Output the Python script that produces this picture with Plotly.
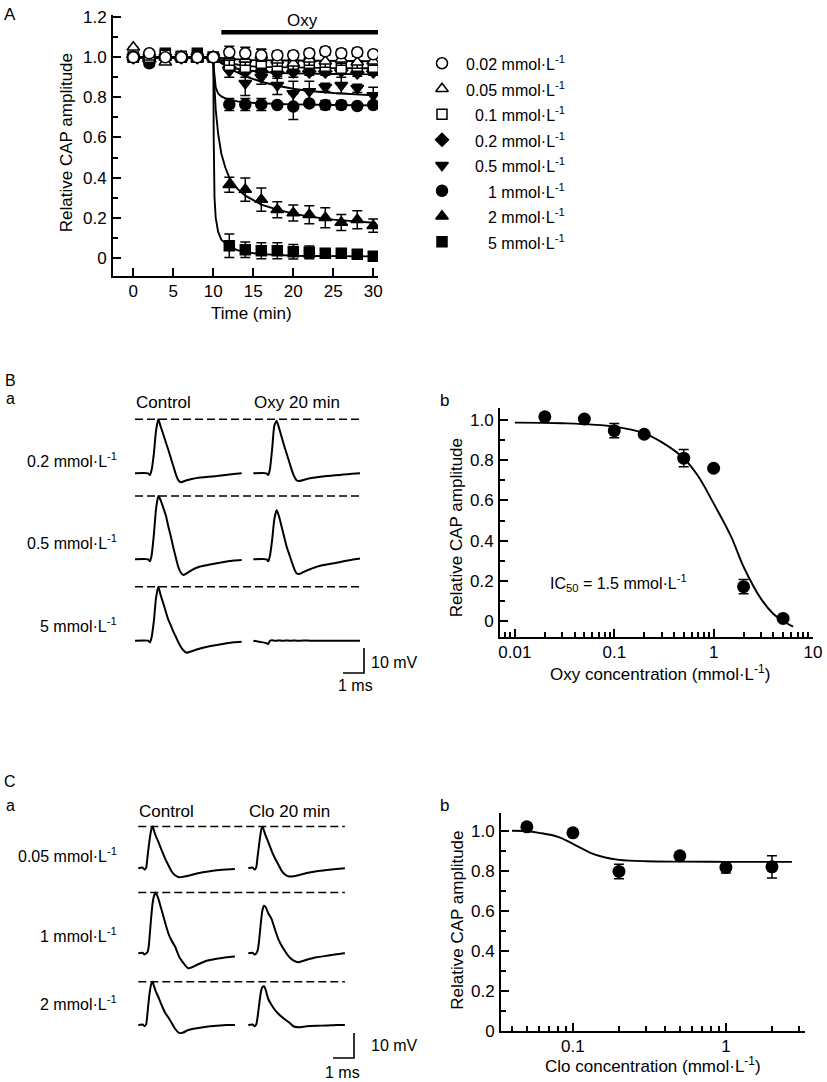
import plotly.graph_objects as go

W, H = 827, 1082
FONT = "Liberation Sans, Arial, sans-serif"
UNIT = "mmol·L<sup>-1</sup>"

# ---------Panel A: time course (relative CAP amplitude)---------
A_TIME = [0, 2, 4, 6, 8, 10, 12, 14, 16, 18, 20, 22, 24, 26, 28, 30]
A_CONC = ["0.02", "0.05", "0.1", "0.2", "0.5", "1", "2", "5"]

A_MEAN_002 = [1.0, 1.02, 1.0, 1.0, 1.0, 1.0, 1.025, 1.02, 1.01, 1.01, 1.01, 1.02, 1.03, 1.02, 1.025, 1.015]
A_SEM_002 = [0, 0, 0, 0, 0, 0, 0.03, 0.03, 0.03, 0.02, 0.02, 0.02, 0.02, 0.02, 0.02, 0.015]
A_MEAN_005 = [1.05, 1.0, 0.975, 1.0, 0.99, 1.0, 1.0, 0.99, 1.01, 0.985, 0.97, 0.99, 0.98, 0.99, 0.975, 0.98]
A_SEM_005 = [0, 0, 0, 0, 0, 0, 0.04, 0.03, 0.03, 0.03, 0.03, 0.03, 0.03, 0.03, 0.03, 0.02]
A_MEAN_01 = [1.0, 1.0, 1.01, 1.005, 1.0, 1.0, 0.96, 0.95, 0.97, 0.955, 0.96, 0.97, 0.955, 0.945, 0.955, 0.95]
A_SEM_01 = [0, 0, 0, 0, 0, 0, 0.02, 0.02, 0.02, 0.02, 0.02, 0.02, 0.02, 0.02, 0.02, 0.02]
A_MEAN_02 = [1.0, 0.98, 1.0, 1.0, 1.0, 1.0, 0.95, 0.93, 0.93, 0.925, 0.93, 0.93, 0.93, 0.935, 0.925, 0.93]
A_SEM_02 = [0, 0, 0, 0, 0, 0, 0.02, 0.03, 0.03, 0.03, 0.03, 0.02, 0.02, 0.02, 0.02, 0.02]
A_MEAN_05 = [1.0, 1.0, 1.0, 1.0, 1.0, 1.0, 0.93, 0.87, 0.9, 0.86, 0.82, 0.83, 0.85, 0.86, 0.845, 0.81]
A_SEM_05 = [0, 0, 0, 0, 0, 0, 0.03, 0.06, 0.035, 0.045, 0.06, 0.05, 0.02, 0.04, 0.02, 0.04]
A_MEAN_1 = [1.0, 0.97, 1.0, 1.0, 1.01, 1.0, 0.765, 0.765, 0.765, 0.762, 0.754, 0.77, 0.762, 0.762, 0.757, 0.762]
A_SEM_1 = [0, 0, 0, 0, 0, 0, 0.03, 0.03, 0.03, 0.01, 0.064, 0.01, 0.023, 0.02, 0.01, 0.01]
A_MEAN_2 = [1.0, 1.0, 1.0, 1.0, 1.0, 1.0, 0.364, 0.34, 0.29, 0.24, 0.223, 0.215, 0.2, 0.176, 0.19, 0.16]
A_SEM_2 = [0, 0, 0, 0, 0, 0, 0.037, 0.058, 0.058, 0.04, 0.04, 0.045, 0.05, 0.04, 0.045, 0.033]
A_MEAN_5 = [1.0, 1.0, 1.02, 1.0, 1.02, 1.0, 0.06, 0.04, 0.035, 0.035, 0.03, 0.027, 0.022, 0.022, 0.017, 0.007]
A_SEM_5 = [0, 0, 0, 0, 0, 0, 0.059, 0.039, 0.04, 0.04, 0.036, 0.032, 0.01, 0.01, 0.01, 0.005]

# fitted curves
A_FIT_TIME = [0, 10, 10.05, 10.15, 10.3, 10.6, 11, 11.5, 12, 13, 14, 16, 18, 20, 22, 25, 28, 30]
A_FIT_005 = [1.0, 1.0, 1.0, 1.0, 1.0, 0.999, 0.997, 0.994, 0.992, 0.989, 0.987, 0.985, 0.984, 0.983, 0.982, 0.981, 0.98, 0.98]
A_FIT_01 = [1.0, 1.0, 1.0, 0.999, 0.997, 0.993, 0.985, 0.977, 0.97, 0.962, 0.957, 0.952, 0.95, 0.948, 0.947, 0.946, 0.945, 0.945]
A_FIT_02 = [1.0, 1.0, 0.999, 0.997, 0.993, 0.985, 0.975, 0.965, 0.955, 0.943, 0.935, 0.927, 0.922, 0.92, 0.918, 0.917, 0.916, 0.915]
A_FIT_05 = [1.0, 1.0, 0.998, 0.995, 0.99, 0.98, 0.97, 0.96, 0.945, 0.925, 0.905, 0.878, 0.858, 0.843, 0.832, 0.822, 0.814, 0.81]
A_FIT_1 = [1.0, 1.0, 0.95, 0.9, 0.85, 0.82, 0.805, 0.795, 0.79, 0.78, 0.775, 0.77, 0.767, 0.765, 0.763, 0.762, 0.761, 0.76]
A_FIT_2 = [1.0, 1.0, 0.92, 0.83, 0.74, 0.62, 0.52, 0.45, 0.40, 0.345, 0.31, 0.265, 0.24, 0.22, 0.205, 0.19, 0.18, 0.175]
A_FIT_5 = [1.0, 1.0, 0.6, 0.3, 0.2, 0.13, 0.09, 0.07, 0.055, 0.038, 0.028, 0.018, 0.013, 0.01, 0.009, 0.008, 0.007, 0.007]

OXY_BAR = [11, 30.6]  # [min]

# ---------Panel Ba: CAP recordings, Oxy---------
BA_T = [0, 0.63, 0.71, 0.79, 0.9, 1.0, 1.11, 1.23, 1.35, 1.47, 1.59, 1.71, 1.83, 1.95, 2.06, 2.18, 2.3, 2.46, 2.7, 3.1, 3.5, 3.9, 4.3, 4.7, 5.08]  # [ms]
BA_CTRL_02 = [0, 0, -0.7, 1.3, 8, 17, 21.6, 18.5, 15.5, 12.3, 9.3, 6, 2.7, -0.5, -2.7, -3.6, -3.3, -2.8, -2.3, -1.7, -1.4, -1.1, -0.7, -0.3, 0]  # [mV]
BA_OXY_02 = [0, 0, -0.7, 1.5, 10, 19, 21, 18, 14.5, 11, 7.8, 4.6, 1.4, -1.3, -2.8, -3.1, -2.9, -2.5, -2.0, -1.5, -1.1, -0.8, -0.5, -0.2, 0]
BA_CTRL_05 = [0, 0, -0.8, 1.5, 10, 20, 25.3, 23.5, 20.5, 17.5, 13, 9, 4.5, 0.5, -3, -5.3, -6.3, -5.6, -4.3, -2.9, -2.2, -1.6, -1.0, -0.5, -0.3]
BA_OXY_05 = [0, 0, -0.8, 1.3, 8, 16, 19.7, 17, 13, 9, 5, 2, -1, -3.8, -5.6, -5.9, -5.5, -4.8, -4.0, -2.8, -2.1, -1.5, -0.8, -0.2, 0.3]
BA_CTRL_5 = [0, 0, -0.7, 1.3, 8, 17, 21.6, 18, 14.9, 11.5, 8.3, 6, 3.5, 1.5, -0.5, -2.4, -3.8, -4.8, -4.2, -3.1, -2.3, -1.7, -1.1, -0.6, -0.4]
BA_OXY_5 = [0, -1.0, -1.3, 0, 0.2, 0, 0, 0.1, 0, 0, 0.1, 0, 0, 0.1, 0, 0, 0, 0.1, 0, 0, 0, 0, 0, 0, 0]
BA_ROWS = ["0.2", "0.5", "5"]

# ---------Panel Bb: Oxy concentration-response---------
BB_CONC = [0.02, 0.05, 0.1, 0.2, 0.5, 1, 2, 5]
BB_MEAN = [1.016, 1.005, 0.947, 0.929, 0.81, 0.76, 0.171, 0.013]
BB_SEM = [0, 0, 0.035, 0, 0.043, 0, 0.035, 0]
BB_FIT_CONC = [0.01, 0.03, 0.1, 0.2, 0.3, 0.5, 0.7, 1.0, 1.5, 2.0, 3.0, 4.0, 5.0, 6.3]
BB_FIT = [0.987, 0.984, 0.967, 0.934, 0.89, 0.81, 0.72, 0.585, 0.42, 0.27, 0.11, 0.035, 0.0, -0.028]

# ---------Panel Ca: CAP recordings, Clo---------
CA_T = [0, 0.2, 0.3, 0.38, 0.44, 0.5, 0.56, 0.62, 0.68, 0.75, 0.83, 0.95, 1.11, 1.27, 1.43, 1.59, 1.75, 1.95, 2.14, 2.38, 2.78, 3.25, 3.73, 4.2, 4.6]  # [ms]
CA_CTRL_005 = [0, 0.3, -0.5, 0.5, 4.7, 9, 12.7, 15.5, 16.7, 15, 13, 10.7, 7.3, 4, 1.3, -1.3, -2.8, -3.6, -3.4, -3.0, -2.1, -1.4, -0.8, -0.5, -0.3]
CA_CLO_005 = [0, 0.3, -0.5, 0.5, 4.5, 8.5, 12.5, 15.5, 16.6, 15, 13, 10.5, 7, 4, 1.5, -1, -2.5, -3.3, -3.2, -2.8, -1.9, -1.2, -0.7, -0.3, 0]
CA_CTRL_1 = [0, 0.2, -0.5, 0, 0.5, 3, 9, 15, 20, 23, 24.3, 22, 17.3, 12.5, 8, 5, 2.7, -1.5, -3.8, -6, -4.7, -3.0, -2.2, -1.6, -1.3]
CA_CLO_1 = [0, 0.2, -0.5, 0, 1, 4, 9, 14, 17.5, 19, 18.5, 16, 13.7, 9.5, 5.7, 3, 0.8, -1.5, -2.8, -3.6, -2.6, -1.6, -1.0, -0.4, 0]
CA_CTRL_2 = [0, 0.2, -0.5, 0.5, 5, 10, 14, 16.5, 17.3, 15.5, 13.5, 11.3, 8, 5, 3, 0.8, -1.5, -3.2, -3, -2, -1.3, -0.7, -0.3, 0, 0]
CA_CLO_2 = [0, 0.2, -0.5, 0.3, 3, 7, 11, 14, 15.3, 15.5, 14, 10.4, 8, 6, 4.5, 3.3, 2.2, 1.0, -0.5, -0.9, -0.5, -0.3, -0.2, 0, 0]
CA_ROWS = ["0.05", "1", "2"]

# ---------Panel Cb: Clo concentration-response---------
CB_CONC = [0.05, 0.1, 0.2, 0.5, 1, 2]
CB_MEAN = [1.02, 0.99, 0.797, 0.875, 0.817, 0.82]
CB_SEM = [0, 0, 0.036, 0, 0.028, 0.056]
CB_FIT_CONC = [0.04, 0.05, 0.06, 0.08, 0.1, 0.13, 0.16, 0.2, 0.3, 0.5, 1.0, 2.0, 2.7]
CB_FIT = [1.0, 0.998, 0.99, 0.97, 0.935, 0.89, 0.868, 0.855, 0.848, 0.846, 0.845, 0.845, 0.845]

SCALE_MS = 1   # [ms]
SCALE_MV = 10  # [mV]

# ---------Layout helpers (pixel positions)---------
PX_PER_MS = 21.0
PX_PER_MV = 2.5


def xdom(x0, x1):
    return [x0 / W, x1 / W]


def ydom(y0, y1):
    return [1 - y1 / H, 1 - y0 / H]


def data_axis(standoff, **kw):
    base = dict(showline=True, linecolor="black", linewidth=2, ticks="inside", ticklen=8,
                tickwidth=2, tickcolor="black", showgrid=False, zeroline=False, automargin=False,
                tickfont=dict(family=FONT, size=17, color="black"), ticklabelstandoff=standoff)
    base.update(kw)
    return base


def minor(vals):
    return dict(ticks="inside", ticklen=5, tickwidth=2, tickcolor="black", tickvals=vals, showgrid=False)


def trace_axes(x0, x1, y0, y1, ox, oy):
    xa = dict(domain=xdom(x0, x1), range=[(x0 - ox) / PX_PER_MS, (x1 - ox) / PX_PER_MS],
              visible=False, automargin=False)
    ya = dict(domain=ydom(y0, y1), range=[(oy - y1) / PX_PER_MV, (oy - y0) / PX_PER_MV],
              visible=False, automargin=False)
    return xa, ya


fig = go.Figure()


def text(s, x, y, size=17, xanchor="center", angle=0):
    fig.add_annotation(text=s, x=x / W, y=1 - y / H, xref="paper", yref="paper", showarrow=False,
                       xanchor=xanchor, yanchor="middle", textangle=angle, borderpad=0,
                       font=dict(family=FONT, size=size, color="black"))


# ---------Panel A---------
a_means = [A_MEAN_002, A_MEAN_005, A_MEAN_01, A_MEAN_02, A_MEAN_05, A_MEAN_1, A_MEAN_2, A_MEAN_5]
a_sems = [A_SEM_002, A_SEM_005, A_SEM_01, A_SEM_02, A_SEM_05, A_SEM_1, A_SEM_2, A_SEM_5]
a_fits = [A_FIT_005, A_FIT_01, A_FIT_02, A_FIT_05, A_FIT_1, A_FIT_2, A_FIT_5]
a_style = [("circle", "white", 11), ("triangle-up", "white", 11), ("square", "white", 10),
           ("diamond", "black", 10), ("triangle-down", "black", 11), ("circle", "black", 11),
           ("triangle-up", "black", 11), ("square", "black", 10)]

for fit in a_fits:
    fig.add_trace(go.Scatter(x=A_FIT_TIME, y=fit, mode="lines", line=dict(color="black", width=1.9),
                             xaxis="x", yaxis="y", showlegend=False, hoverinfo="skip"))

for i in reversed(range(len(A_CONC))):
    sym, col, size = a_style[i]
    fig.add_trace(go.Scatter(x=A_TIME, y=a_means[i], mode="markers", name=A_CONC[i] + " mmol/L",
                             marker=dict(symbol=sym, color=col, size=size, line=dict(color="black", width=1.5)),
                             error_y=dict(type="data", array=a_sems[i], color="black", thickness=1.5, width=5),
                             xaxis="x", yaxis="y", showlegend=False))

fig.add_trace(go.Scatter(x=OXY_BAR, y=[1.125, 1.125], mode="lines", line=dict(color="black", width=4.5),
                         cliponaxis=False, xaxis="x", yaxis="y", showlegend=False, hoverinfo="skip"))

# legend (drawn by hand so the labels can be right aligned)
for i, conc in enumerate(A_CONC):
    sym, col, size = a_style[i]
    fig.add_trace(go.Scatter(x=[0], y=[i], mode="markers",
                             marker=dict(symbol=sym, color=col, size=size, line=dict(color="black", width=1.5)),
                             xaxis="x2", yaxis="y2", showlegend=False, hoverinfo="skip"))
    text(conc + " " + UNIT, 566, 63.3 + 25.5 * i, size=16, xanchor="right")


# ---------Panels Ba / Ca: recordings---------
def add_recordings(t, rows, col_px, row_px, xref, yref, corner_px):
    ox, oy = col_px[0], row_px[0]
    for (ctrl, drug), rpx in zip(rows, row_px):
        dy = (oy - rpx) / PX_PER_MV
        for wave, cpx in zip((ctrl, drug), col_px):
            dx = (cpx - ox) / PX_PER_MS
            fig.add_trace(go.Scatter(x=[v + dx for v in t], y=[v + dy for v in wave], mode="lines",
                                     line=dict(color="black", width=2, shape="spline", smoothing=0.5),
                                     xaxis=xref, yaxis=yref, showlegend=False, hoverinfo="skip"))
        end = (col_px[1] - ox) / PX_PER_MS + t[-1]
        peak = max(ctrl) + dy
        fig.add_trace(go.Scatter(x=[0, end], y=[peak, peak], mode="lines",
                                 line=dict(color="black", width=1.6, dash="8px,4px"),
                                 xaxis=xref, yaxis=yref, showlegend=False, hoverinfo="skip"))
    cx = (corner_px[0] - ox) / PX_PER_MS
    cy = (oy - corner_px[1]) / PX_PER_MV
    fig.add_trace(go.Scatter(x=[cx - SCALE_MS, cx, cx], y=[cy, cy, cy + SCALE_MV], mode="lines",
                             line=dict(color="black", width=1.6),
                             xaxis=xref, yaxis=yref, showlegend=False, hoverinfo="skip"))


add_recordings(BA_T, [(BA_CTRL_02, BA_OXY_02), (BA_CTRL_05, BA_OXY_05), (BA_CTRL_5, BA_OXY_5)],
               [135, 253.3], [473.3, 559.3, 640.7], "x3", "y3", (364, 673))
add_recordings(CA_T, [(CA_CTRL_005, CA_CLO_005), (CA_CTRL_1, CA_CLO_1), (CA_CTRL_2, CA_CLO_2)],
               [138.3, 248.3], [868.3, 953.3, 1025], "x5", "y5", (354, 1058))

# ---------Panels Bb / Cb: concentration-response---------
for xr, yr, cx, cy, ce, fx, fy in [("x4", "y4", BB_CONC, BB_MEAN, BB_SEM, BB_FIT_CONC, BB_FIT),
                                    ("x6", "y6", CB_CONC, CB_MEAN, CB_SEM, CB_FIT_CONC, CB_FIT)]:
    fig.add_trace(go.Scatter(x=fx, y=fy, mode="lines", line=dict(color="black", width=1.9, shape="spline"),
                             xaxis=xr, yaxis=yr, showlegend=False, hoverinfo="skip"))
    fig.add_trace(go.Scatter(x=cx, y=cy, mode="markers", marker=dict(color="black", size=13),
                             error_y=dict(type="data", array=ce, color="black", thickness=1.5, width=5),
                             xaxis=xr, yaxis=yr, showlegend=False))

y_ticks = [0, 0.2, 0.4, 0.6, 0.8, 1.0]
y_text = ["0", "0.2", "0.4", "0.6", "0.8", "1.0"]
y_minor = [0.1, 0.3, 0.5, 0.7, 0.9]
log_minor_b = [0.008, 0.009, 0.02, 0.03, 0.04, 0.05, 0.06, 0.07, 0.08, 0.09,
               0.2, 0.3, 0.4, 0.5, 0.6, 0.7, 0.8, 0.9, 2, 3, 4, 5, 6, 7, 8, 9]
log_minor_c = [0.04, 0.05, 0.06, 0.07, 0.08, 0.09, 0.2, 0.3, 0.4, 0.5, 0.6, 0.7, 0.8, 0.9, 2, 3]

xa3, ya3 = trace_axes(125, 415, 395, 700, 135, 473.3)
xa5, ya5 = trace_axes(125, 415, 795, 1080, 138.3, 868.3)

fig.update_layout(
    width=W, height=H, margin=dict(l=0, r=0, t=0, b=0, autoexpand=False),
    paper_bgcolor="white", plot_bgcolor="white", showlegend=False,
    font=dict(family=FONT, size=17, color="black"),
    xaxis=data_axis(-1, domain=xdom(113, 378), range=[-2.54, 30.59], anchor="y",
                    tickvals=[0, 5, 10, 15, 20, 25, 30]),
    yaxis=data_axis(1, domain=ydom(15, 276), range=[-0.091, 1.211], anchor="x",
                    tickvals=[0, 0.2, 0.4, 0.6, 0.8, 1.0, 1.2],
                    ticktext=["0", "0.2", "0.4", "0.6", "0.8", "1.0", "1.2"],
                    minor=minor([0.1, 0.3, 0.5, 0.7, 0.9, 1.1])),
    xaxis2=dict(domain=xdom(432, 452), range=[-1, 1], visible=False, anchor="y2", automargin=False),
    yaxis2=dict(domain=ydom(50, 255), range=[7.52, -0.52], visible=False, anchor="x2", automargin=False),
    xaxis3=dict(xa3, anchor="y3"), yaxis3=dict(ya3, anchor="x3"),
    xaxis4=data_axis(-1, domain=xdom(500, 813), type="log", range=[-2.15, 1.0], anchor="y4",
                     tickvals=[0.01, 0.1, 1, 10], ticktext=["0.01", "0.1", "1", "10"],
                     minor=minor(log_minor_b)),
    yaxis4=data_axis(1, domain=ydom(408, 637), range=[-0.0796, 1.0597], anchor="x4",
                     tickvals=y_ticks, ticktext=y_text, minor=minor(y_minor)),
    xaxis5=dict(xa5, anchor="y5"), yaxis5=dict(ya5, anchor="x5"),
    xaxis6=data_axis(-1, domain=xdom(501, 805), type="log", range=[-1.47, 0.517], anchor="y6",
                     tickvals=[0.1, 1], ticktext=["0.1", "1"], minor=minor(log_minor_c)),
    yaxis6=data_axis(1, domain=ydom(813, 1031), range=[0, 1.089], anchor="x6",
                     tickvals=y_ticks, ticktext=y_text, minor=minor(y_minor)),
)

# ---------Texts---------
text("A", 10, 15)
text("Oxy", 302, 20)
text("Relative CAP amplitude", 66.7, 142.5, angle=-90)
text("Time (min)", 251.7, 313)

text("B", 10, 380, size=16)
text("a", 10, 398, size=16)
text("Control", 163, 403)
text("Oxy 20 min", 297, 403)
for lab, ypx in zip(BA_ROWS, [460, 541.7, 625]):
    text(lab + " " + UNIT, 118, ypx, size=16, xanchor="right")
text("10 mV", 370, 662, size=16, xanchor="left")
text("1 ms", 355, 685, size=16)

text("b", 445, 400)
text("Relative CAP amplitude", 456.7, 527.5, angle=-90)
text("Oxy concentration (" + UNIT + ")", 660, 673)
text("IC<sub>50</sub> = 1.5 " + UNIT, 618, 583, size=16)

text("C", 10, 781, size=16)
text("a", 10, 805, size=16)
text("Control", 166, 811)
text("Clo 20 min", 289, 811)
for lab, ypx in zip(CA_ROWS, [855, 935, 1003.3]):
    text(lab + " " + UNIT, 118, ypx, size=16, xanchor="right")
text("10 mV", 370, 1045, size=16, xanchor="left")
text("1 ms", 342, 1072, size=16)

text("b", 445, 805)
text("Relative CAP amplitude", 456.7, 920, angle=-90)
text("Clo concentration (" + UNIT + ")", 653, 1065)

# page body margin would push the figure by 8 px
fig.write_html("out.html", config={"displayModeBar": False},
               post_script="document.body.style.margin = '0px';")
